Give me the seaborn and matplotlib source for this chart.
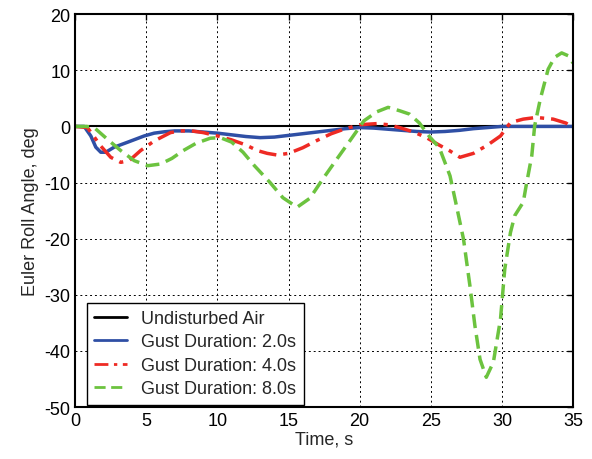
import numpy as np
import pandas as pd
import matplotlib
matplotlib.use("Agg")
import matplotlib.pyplot as plt
import seaborn as sns

# --- data ---
t_undist = [0, 35]
y_undist = [0, 0]

t_g2 = [0, 0.63, 1.1, 1.45, 1.8, 2.15, 2.74, 3.7, 4.85, 5.55, 6.3, 7, 8, 9, 10, 11, 12, 13,
        14, 15, 16, 17, 18, 19, 20, 21, 22, 23, 24, 25, 26, 27, 28, 29, 30, 35]
y_g2 = [0, 0, -1.7, -3.7, -4.6, -4.6, -3.7, -2.8, -1.7, -1.2, -0.95, -0.8, -0.8, -1.0, -1.2,
        -1.5, -1.8, -2.0, -1.9, -1.6, -1.3, -1.0, -0.7, -0.4, -0.2, -0.3, -0.5, -0.7, -0.9,
        -1.0, -0.9, -0.7, -0.4, -0.2, 0, 0]

t_g4 = [0, 0.86, 1.8, 2.5, 3.2, 3.8, 4.6, 5.55, 6.7, 7.4, 8.2, 9, 10, 11, 12, 12.8,
        13.5, 14.2, 15, 16, 17, 18, 19, 20, 21.2, 22, 22.8, 23.8, 24.7, 25.5, 26.3, 27.05,
        28, 29, 29.9, 30.6, 31.5, 32.4, 33.6, 34.5, 35]
y_g4 = [0, -0.2, -3.5, -5.5, -6.4, -6.1, -4.3, -2.6, -1.1, -0.8, -0.8, -1.1, -1.7,
        -2.4, -3.3, -4.3, -4.8, -5.1, -4.8, -3.8, -2.5, -1.3, -0.4, 0.3, 0.5, 0.3, -0.2, -1.0,
        -2.0, -3.2, -4.3, -5.5, -4.8, -3.3, -1.7, 0.7, 1.3, 1.6, 1.3, 0.6, -0.2]

t_g8 = [0, 0.8, 1.33, 2.27, 3.2, 4.15, 5.1, 6, 6.8, 7.6, 8.5, 9.5, 10.2, 11, 11.8, 12.6,
        13.7, 14.6, 15.6, 16.5, 17.4, 18.4, 19.3, 20.3, 21.2, 22.0, 22.8, 23.5, 24.2, 24.9,
        25.6, 26.35, 26.8, 27.3, 27.75, 28.1, 28.46, 28.9, 29.4, 29.9, 30.2, 30.6, 30.9, 31.5,
        31.7, 32.1, 32.3, 32.7, 33.25, 33.7, 34.2, 34.65, 35]
y_g8 = [0, 0, -0.2, -2.3, -4.3, -6.1, -7.0, -6.7, -5.7, -4.3, -3.0, -2.1, -2.0, -2.8,
        -4.6, -7.0, -10, -12.7, -14.4, -12.8, -9.4, -5.8, -2.6, 1.0, 2.6, 3.4, 2.8, 2.2, 0.6,
        -1.8, -3.8, -8.8, -14.1, -20.1, -28.4, -35.5, -41.5, -44.7, -42, -34.3, -25.4, -18.9,
        -15.9, -13.5, -10.6, -5.2, 0.1, 4.9, 10.2, 12.3, 13.1, 12.6, 11.3]

labels = ["Undisturbed Air", "Gust Duration: 2.0s", "Gust Duration: 4.0s", "Gust Duration: 8.0s"]
x_ticks = [0, 5, 10, 15, 20, 25, 30, 35]
y_ticks = [-50, -40, -30, -20, -10, 0, 10, 20]

sns.set_style("white")
plt.rcParams['font.family'] = ['Liberation Sans', 'DejaVu Sans']
plt.rcParams['axes.unicode_minus'] = False

fig = plt.figure(figsize=(5.92, 4.6), dpi=100)
ax = fig.add_axes([0.127, 0.113, 0.841, 0.854])

series = [
    (t_undist, y_undist, labels[0], "black", "-", 1.5),
    (t_g2, y_g2, labels[1], "#2f4fa5", "-", 2.5),
    (t_g4, y_g4, labels[2], "#ee2a24", (0, (5, 2, 1.2, 2)), 2.5),
    (t_g8, y_g8, labels[3], "#6cc33f", (0, (4, 2)), 2.5),
]
for t, y, lab, col, ls, lw in series:
    df = pd.DataFrame({"t": t, "y": y})
    sns.lineplot(data=df, x="t", y="y", ax=ax, color=col, linestyle=ls, linewidth=lw,
                 label=lab, sort=False, estimator=None)

ax.set_xlim(0, 35)
ax.set_ylim(-50, 20)
ax.set_xticks(x_ticks)
ax.set_yticks(y_ticks)
ax.grid(True, color="black", linestyle=(0, (2, 3)), linewidth=0.7)
ax.tick_params(direction="in", top=True, right=True, length=4, width=1,
               labelsize=13, color="black", labelcolor="black")
for s in ax.spines.values():
    s.set_color("black")
    s.set_linewidth(1.5)
ax.set_xlabel("Time, s", fontsize=13, labelpad=1)
ax.set_ylabel("Euler Roll Angle, deg", fontsize=13, labelpad=4)

leg = ax.legend(loc="lower left", bbox_to_anchor=(0.024, 0.006), borderaxespad=0,
                fontsize=13, frameon=True, fancybox=False, edgecolor="black", framealpha=1,
                handlelength=1.8, borderpad=0.4, labelspacing=0.36, handletextpad=0.8)
leg.get_frame().set_linewidth(1.0)
for h in leg.get_lines():
    h.set_linewidth(2.0)

fig.savefig("out.png", dpi=100)
